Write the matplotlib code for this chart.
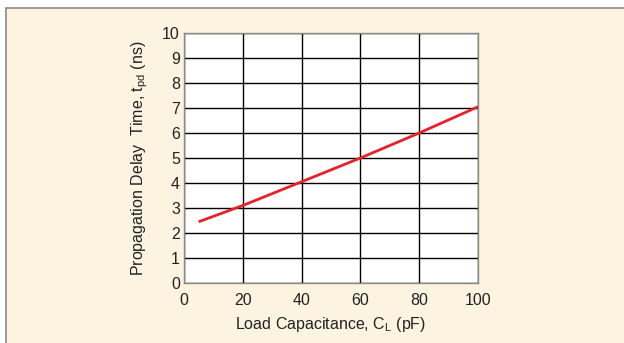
import matplotlib
matplotlib.use("Agg")
import matplotlib.pyplot as plt
from matplotlib.patches import Rectangle

plt.rcParams['font.family'] = ['Liberation Sans', 'DejaVu Sans']

# data
load_pf = [5, 20, 40, 60, 80, 100]
delay_ns = [2.45, 3.1, 4.05, 5.0, 6.0, 7.05]
x_ticks = [0, 20, 40, 60, 80, 100]
y_ticks = list(range(0, 11))

fig = plt.figure(figsize=(6.24, 3.43), dpi=100)
fig.patch.set_facecolor('white')

# cream panel behind the chart (drawn in its own background axes)
bg = fig.add_axes([0, 0, 1, 1], zorder=-10)
bg.set_xlim(0, 624)
bg.set_ylim(343, 0)
bg.axis('off')
bg.add_patch(Rectangle((6, 7.5), 640, 360, facecolor='#fdf3e1',
                       edgecolor='#8c8a86', linewidth=1.2))

ax = fig.add_axes([184 / 624, 1 - 283 / 343, 294 / 624, 250 / 343])
ax.set_facecolor('white')
ax.set_xlim(0, 100)
ax.set_ylim(0, 10)
ax.set_xticks(x_ticks)
ax.set_yticks(y_ticks)
ax.grid(True, color='black', linewidth=1.0)
ax.set_axisbelow(True)
ax.tick_params(length=0, labelsize=11.5, colors='#222222')
ax.tick_params(axis='y', pad=3)
ax.tick_params(axis='x', pad=7)
for s in ax.spines.values():
    s.set_color('#8c8a86')
    s.set_linewidth(1.0)

ax.plot(load_pf, delay_ns, color='#e8202a', linewidth=2.0, solid_capstyle='butt', zorder=3)

ax.set_xlabel(r'Load Capacitance, C$_\mathregular{L}$ (pF)', fontsize=11.5, color='#222222', labelpad=5)
ax.set_ylabel(r'Propagation Delay  Time, t$_\mathregular{pd}$ (ns)', fontsize=11.5, color='#222222', labelpad=9)

fig.savefig('out.png', dpi=100, facecolor=fig.get_facecolor())
